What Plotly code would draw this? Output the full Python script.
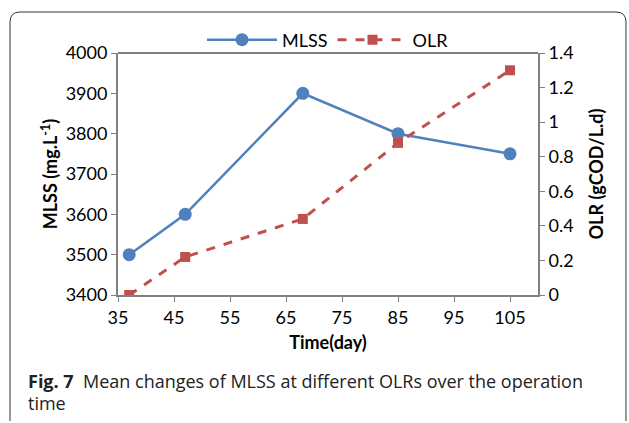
import plotly.graph_objects as go

days = [37, 47, 68, 85, 105]
mlss = [3500, 3600, 3900, 3800, 3750]
olr = [0, 0.22, 0.44, 0.88, 1.3]

x_ticks = [35, 45, 55, 65, 75, 85, 95, 105]
mlss_ticks = [3400, 3500, 3600, 3700, 3800, 3900, 4000]
olr_ticks = [0, 0.2, 0.4, 0.6, 0.8, 1, 1.2, 1.4]
olr_ticklabels = ["0", "0.2", "0.4", "0.6", "0.8", "1", "1.2", "1.4"]

W, H = 629, 423
L, R, T, B = 118, 538, 53, 295
pw, ph = R - L, B - T

def px(xp):
    return (xp - L) / pw

def py(yp):
    return (B - yp) / ph

FONT = "Lato"
AX = "#7f7f7f"
TS = 18

fig = go.Figure()
fig.add_trace(go.Scatter(
    x=days, y=mlss, name="MLSS", mode="lines+markers",
    line=dict(color="#4F81BD", width=2.5),
    marker=dict(symbol="circle", size=13, color="#4F81BD"),
    yaxis="y"))
fig.add_trace(go.Scatter(
    x=days, y=olr, name="OLR", mode="lines+markers",
    line=dict(color="#C0504D", width=3, dash="dash"),
    marker=dict(symbol="square", size=10, color="#C0504D"),
    yaxis="y2"))

fig.update_layout(
    width=W, height=H,
    margin=dict(l=L, r=W - R, t=T, b=H - B, autoexpand=False),
    paper_bgcolor="white", plot_bgcolor="white",
    font=dict(family=FONT, size=TS, color="black"),
    showlegend=True,
    legend=dict(orientation="h", x=0.5, xanchor="center", y=py(40), yanchor="middle",
                font=dict(family=FONT, size=TS), bgcolor="rgba(0,0,0,0)",
                itemwidth=70, tracegroupgap=0),
    xaxis=dict(range=[35, 110], tickvals=x_ticks, ticks="outside", ticklen=5,
               tickcolor=AX, linecolor=AX, linewidth=2, showline=True, automargin=False,
               showgrid=False, zeroline=False, tickfont=dict(size=TS),
               title=dict(text="<b>Time(day)</b>", font=dict(size=TS), standoff=10)),
    yaxis=dict(range=[3400, 4000], tickvals=mlss_ticks, ticks="outside", ticklen=5,
               tickcolor=AX, linecolor=AX, linewidth=2, showline=True, automargin=False,
               showgrid=False, zeroline=False, tickfont=dict(size=TS),
               title=dict(text="<b>MLSS (mg.L<sup>-1</sup>)</b>", font=dict(size=TS), standoff=3)),
    yaxis2=dict(range=[0, 1.4], tickvals=olr_ticks, ticktext=olr_ticklabels,
                overlaying="y", side="right", ticks="outside", ticklen=5, automargin=False,
                tickcolor=AX, linecolor=AX, linewidth=2, showline=True,
                showgrid=False, zeroline=False, tickfont=dict(size=TS),
                title=dict(text="<b>OLR (gCOD/L.d)</b>", font=dict(size=TS), standoff=18)),
)

# top frame line of plot area
fig.add_shape(type="line", xref="paper", yref="paper", x0=0, x1=1, y0=1, y1=1,
              line=dict(color="black", width=1))

# rounded outer border
x0, x1, y0, y1, r = 10, 626, 12, 421, 10
path = (f"M {px(x0 + r)},{py(y0)} L {px(x1 - r)},{py(y0)} "
        f"Q {px(x1)},{py(y0)} {px(x1)},{py(y0 + r)} "
        f"L {px(x1)},{py(y1)} "
        f"M {px(x0)},{py(y1)} L {px(x0)},{py(y0 + r)} "
        f"Q {px(x0)},{py(y0)} {px(x0 + r)},{py(y0)}")
fig.add_shape(type="path", xref="paper", yref="paper", path=path,
              line=dict(color="#333333", width=1))

fig.add_annotation(xref="paper", yref="paper", x=px(26), y=py(381), xanchor="left",
                   yanchor="middle", showarrow=False, align="left",
                   text="<b>Fig. 7</b>  Mean changes of MLSS at different OLRs over the operation",
                   font=dict(family="Open Sans", size=18, color="#222222"))
fig.add_annotation(xref="paper", yref="paper", x=px(26), y=py(403), xanchor="left",
                   yanchor="middle", showarrow=False, align="left",
                   text="time",
                   font=dict(family="Open Sans", size=18, color="#222222"))

fig.write_html("out.html", config={"displayModeBar": False},
               post_script="document.body.style.margin='0px';")
